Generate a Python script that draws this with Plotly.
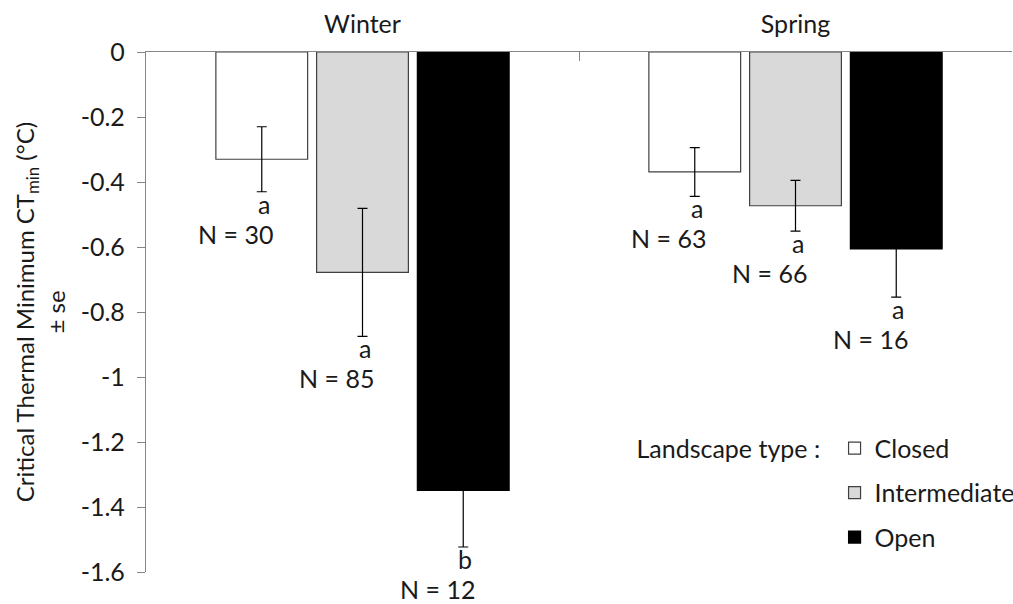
import plotly.graph_objects as go

seasons = ["Winter", "Spring"]
landscapes = ["Closed", "Intermediate", "Open"]
means = {
    "Closed": [-0.33, -0.369],
    "Intermediate": [-0.678, -0.473],
    "Open": [-1.349, -0.606],
}
ses = {
    "Closed": [0.100, 0.075],
    "Intermediate": [0.197, 0.078],
    "Open": [0.174, 0.148],
}
letters = {
    "Closed": ["a", "a"],
    "Intermediate": ["a", "a"],
    "Open": ["b", "a"],
}
ns = {
    "Closed": [30, 63],
    "Intermediate": [85, 66],
    "Open": [12, 16],
}
ytickvals = [0, -0.2, -0.4, -0.6, -0.8, -1.0, -1.2, -1.4, -1.6]
yticktext = ["0", "-0.2", "-0.4", "-0.6", "-0.8", "-1", "-1.2", "-1.4", "-1.6"]

fills = {"Closed": "#FFFFFF", "Intermediate": "#D9D9D9", "Open": "#000000"}
lines = {"Closed": "#404040", "Intermediate": "#404040", "Open": "#000000"}

FONT = "Lato"
FS = 25
TXT = "#1a1a1a"
BARGAP = 0.302

fig = go.Figure()
for i, ls in enumerate(landscapes):
    fig.add_trace(go.Bar(
        name=ls, x=seasons, y=means[ls], legendgroup=ls,
        marker=dict(color=fills[ls], line=dict(color=lines[ls], width=1.2)),
        error_y=dict(type="data", array=ses[ls], color="#000000", thickness=1.2, width=5),
    ))

slot = (1 - BARGAP) / len(landscapes)
anns = []
for i, ls in enumerate(landscapes):
    off = (i - 1) * slot
    for ci, s in enumerate(seasons):
        xb = ci + off
        ylow = means[ls][ci] - ses[ls][ci]
        anns.append(dict(x=xb, y=ylow, xref="x", yref="y", text=letters[ls][ci],
                         showarrow=False, yanchor="top", xanchor="center", xshift=2, yshift=4,
                         borderpad=0, font=dict(family=FONT, size=FS, color=TXT)))
        anns.append(dict(x=xb, y=ylow, xref="x", yref="y", text=f"N = {ns[ls][ci]}",
                         showarrow=False, yanchor="top", xanchor="center", xshift=-26, yshift=-26,
                         borderpad=0, font=dict(family=FONT, size=FS, color=TXT)))

fig.update_layout(
    width=1013, height=604,
    margin=dict(l=146, r=1, t=52, b=32, autoexpand=False),
    paper_bgcolor="white", plot_bgcolor="white",
    barmode="group", bargap=BARGAP, bargroupgap=0.089,
    font=dict(family=FONT, size=FS, color=TXT),
    annotations=anns,
    showlegend=True,
    legend=dict(
        title=dict(text="Landscape type : ", side="left", font=dict(family=FONT, size=FS, color=TXT)),
        x=0.564, y=0.282, xanchor="left", yanchor="top",
        traceorder="grouped", tracegroupgap=9, itemwidth=30,
        font=dict(family=FONT, size=FS, color=TXT), bgcolor="rgba(0,0,0,0)",
    ),
    xaxis=dict(
        side="top", type="category", showline=True, linecolor="#868686", linewidth=1.3,
        ticks="inside", tickson="boundaries", ticklen=9, tickcolor="#868686",
        showgrid=False, zeroline=False, ticklabelstandoff=8, automargin=False,
        tickfont=dict(family=FONT, size=FS, color=TXT),
    ),
    yaxis=dict(
        range=[-1.6, 0], tickvals=ytickvals, ticktext=yticktext,
        showline=True, linecolor="#868686", linewidth=1.3,
        ticks="outside", ticklen=8, tickcolor="#868686", ticklabelstandoff=7,
        showgrid=False, zeroline=False, automargin=True,
        tickfont=dict(family=FONT, size=FS, color=TXT),
        title=dict(text="Critical Thermal Minimum CT<sub>min</sub> (°C)<br>± se",
                   font=dict(family=FONT, size=24, color=TXT), standoff=8),
    ),
)

fig.write_html("out.html", config={"displayModeBar": False},
               post_script="document.body.style.margin='0';document.body.style.overflow='hidden';")
